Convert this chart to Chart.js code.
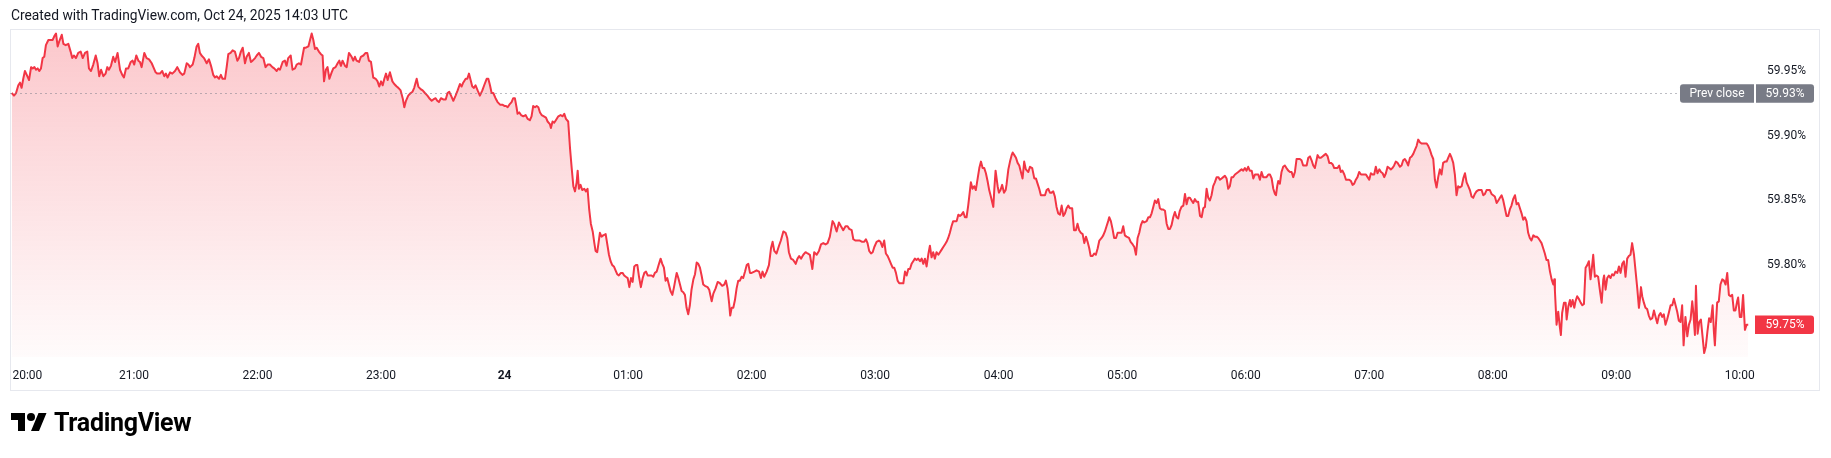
<!DOCTYPE html>
<html><head><meta charset="utf-8">
<script src="https://cdn.jsdelivr.net/npm/chart.js@4.4.1/dist/chart.umd.min.js"></script>
<style>
html,body{margin:0;padding:0;background:#fff;width:1831px;height:458px;overflow:hidden}
#wrap{position:relative;width:1831px;height:458px}
#c{position:absolute;left:0;top:0}
#title{position:absolute;left:11px;top:7px;font:13.8px Roboto,sans-serif;line-height:16px;color:#131722;white-space:nowrap}
#logoIcon{position:absolute;left:11px;top:409px}
#logoText{position:absolute;left:54px;top:410px;font:700 25px Roboto,sans-serif;line-height:25px;color:#000;white-space:nowrap;letter-spacing:-0.3px}
</style></head><body>
<div id="wrap">
<canvas id="c" width="1831" height="458"></canvas>
<div id="title">Created with TradingView.com, Oct 24, 2025 14:03 UTC</div>
<svg id="logoIcon" width="36" height="28" viewBox="0 0 36 28"><path d="M14 22H7V11H0V4h14v18zM28 22h-8l7.5-18h8L28 22z" fill="#000"/><circle cx="20" cy="8" r="4" fill="#000"/></svg>
<div id="logoText">TradingView</div>
</div>
<script>
// ---- data: minutes since 20:00 (ET) and yield in % ----
const seg1Minutes = [0.6,1.7,2.7,3.8,4.6,5.4,6.2,7.0,7.9,9.0,10.0,10.8,11.6,12.4,13.2,14.0,14.8,15.6,16.4,17.2,18.4,19.5,20.5,21.3,22.1,22.9,23.7,24.9,25.7,26.8,28.1,29.2,30.0,30.8,31.8,32.9,34.1,35.1,36.2,37.3,38.1,39.1,40.2,41.4,42.3,43.1,44.0,45.1,46.2,47.0,47.8,48.8,49.9,50.8,52.0,53.2,54.3,55.1,56.1,57.2,58.4,59.3,60.1,61.1,62.1,62.9,63.7,65.0,66.1,67.3,68.6,69.4,70.5,71.3,72.6,73.7,74.7,75.5,76.3,77.5,78.6,79.9,81.0,82.3,83.5,84.4,85.6,86.4,87.2,88.5,89.3,90.4,91.2,92.0,92.8,94.0,95.3,96.4,97.4,98.5,99.3,100.1,101.3,102.2,103.0,104.2,105.0,105.8,106.9,107.9,109.0,110.2,111.0,111.9,112.8,113.9,114.7,115.8,116.8,117.6,118.8,119.6,120.7,121.7,122.8,123.9,124.9,126.0,127.2,128.1,129.3,130.1,130.9,132.2,133.3,134.1,134.9,136.1,137.0,138.2,139.0,140.1,141.1,141.9,142.6,143.5,144.7,145.5,146.3,147.1,147.9,148.7,149.8,150.8,151.6,152.3,153.2,154.0,154.9,156.0,156.8,157.9,158.9,159.7,160.5,161.3,162.5,163.3,164.4];
const seg1Values = [59.933,59.931,59.933,59.939,59.941,59.937,59.944,59.950,59.947,59.943,59.953,59.952,59.953,59.951,59.952,59.950,59.952,59.960,59.961,59.970,59.974,59.974,59.974,59.977,59.979,59.969,59.973,59.978,59.971,59.970,59.971,59.965,59.960,59.962,59.960,59.964,59.965,59.960,59.964,59.965,59.952,59.950,59.955,59.962,59.956,59.946,59.951,59.946,59.948,59.953,59.951,59.954,59.961,59.957,59.964,59.951,59.947,59.945,59.952,59.952,59.957,59.958,59.955,59.962,59.958,59.957,59.953,59.964,59.960,59.959,59.956,59.953,59.949,59.948,59.948,59.950,59.946,59.948,59.945,59.949,59.948,59.950,59.953,59.949,59.947,59.948,59.956,59.955,59.953,59.955,59.960,59.969,59.971,59.964,59.962,59.960,59.956,59.959,59.954,59.947,59.945,59.946,59.944,59.947,59.944,59.944,59.953,59.963,59.964,59.966,59.965,59.958,59.960,59.965,59.968,59.956,59.961,59.964,59.957,59.958,59.960,59.962,59.964,59.961,59.960,59.953,59.955,59.955,59.953,59.952,59.950,59.952,59.951,59.957,59.958,59.954,59.960,59.962,59.951,59.952,59.955,59.956,59.955,59.962,59.968,59.968,59.969,59.974,59.979,59.974,59.967,59.968,59.965,59.963,59.962,59.942,59.951,59.953,59.944,59.949,59.952,59.953,59.956,59.958,59.954,59.958,59.954,59.953,59.964];

const seg2Minutes = [165.7,166.5,167.3,168.1,169.3,170.2,171.4,172.5,173.3,174.1,175.1,176.2,177.4,178.3,179.1,180.0,180.8,181.6,182.4,183.2,184.3,185.5,186.4,187.6,188.4,189.5,190.5,191.3,192.1,193.2,194.4,195.3,196.1,197.3,198.1,199.2,200.2,201.3,202.5,203.4,204.6,205.4,206.5,207.3,208.1,209.1,210.2,211.4,212.3,213.1,214.0,215.1,216.2,217.2,218.3,219.1,219.9,221.1,221.9,222.7,223.5,224.3,225.1,225.9,226.9,228.0,229.2,230.1,231.3,232.1,232.9,233.7,234.5,235.6,236.6,237.8,238.9,239.9,240.7,241.5,242.3,243.4,244.2,245.0,245.8,246.3,247.1,248.0,249.1,250.2,251.2,252.3,253.1,253.9,254.8,255.6,256.4,257.2,258.0,259.1,260.1,260.9,262.0,262.5,263.3,264.1,264.9,266.1,267.2,268.2,269.0,269.8,270.9,271.8,272.6,273.4,274.2,275.0,275.5,276.1,276.9,277.7,278.7,279.5,280.3,281.1,281.9,282.8,283.6,284.2,285.0,285.7,286.3,287.1,287.9,289.1,289.9,290.7,291.5,292.3,293.1,293.9,294.7,295.5,296.5,297.3,298.1,298.9,299.8,300.6,301.4,302.2,303.0,303.7,304.5,305.3,306.2,307.1,307.9,308.7,309.5,310.3,311.4,312.2,313.0,313.9,315.0,315.8,316.6,317.4,318.2,319.0,319.8,320.6,321.5,322.3,323.1,323.6,324.4,325.2,326.0,326.8,327.6,328.4,329.2,330.0,330.8,331.7,332.5,333.3,334.1,334.9,335.7,336.5,337.3,338.6];
const seg2Values = [59.961,59.958,59.961,59.958,59.957,59.961,59.962,59.964,59.964,59.958,59.957,59.945,59.944,59.942,59.938,59.942,59.939,59.944,59.948,59.943,59.949,59.942,59.940,59.938,59.937,59.935,59.929,59.922,59.927,59.931,59.933,59.934,59.937,59.944,59.938,59.936,59.935,59.933,59.931,59.929,59.927,59.928,59.929,59.927,59.926,59.929,59.928,59.928,59.933,59.934,59.931,59.927,59.931,59.935,59.940,59.938,59.941,59.944,59.944,59.948,59.943,59.938,59.937,59.939,59.935,59.931,59.935,59.939,59.944,59.944,59.939,59.933,59.933,59.929,59.926,59.924,59.924,59.923,59.923,59.922,59.924,59.926,59.929,59.929,59.922,59.917,59.918,59.916,59.915,59.916,59.913,59.912,59.915,59.923,59.922,59.923,59.922,59.918,59.916,59.915,59.914,59.911,59.909,59.906,59.911,59.910,59.912,59.915,59.916,59.915,59.917,59.913,59.911,59.890,59.875,59.861,59.857,59.864,59.873,59.859,59.862,59.858,59.859,59.857,59.859,59.843,59.832,59.826,59.817,59.811,59.810,59.818,59.825,59.822,59.823,59.824,59.816,59.808,59.803,59.800,59.799,59.796,59.793,59.792,59.794,59.794,59.792,59.791,59.790,59.783,59.790,59.787,59.799,59.800,59.800,59.791,59.783,59.790,59.794,59.795,59.792,59.792,59.792,59.791,59.794,59.795,59.801,59.805,59.801,59.798,59.788,59.790,59.785,59.780,59.777,59.783,59.790,59.794,59.790,59.785,59.780,59.779,59.777,59.767,59.762,59.769,59.781,59.789,59.793,59.802,59.801,59.798,59.792,59.785,59.784,59.783];

const seg3Minutes = [339.4,340.6,341.4,342.5,343.5,344.6,345.7,346.7,347.5,348.3,349.1,349.6,350.3,351.1,351.9,352.7,353.5,354.3,355.1,355.9,356.8,357.6,358.4,359.2,360.0,361.3,362.4,363.6,364.5,365.3,366.1,367.3,368.4,369.4,370.2,371.0,372.1,373.3,374.2,375.4,376.5,377.3,378.1,379.1,380.2,381.4,382.3,383.1,384.0,385.1,386.2,387.2,388.3,389.5,390.4,391.6,392.7,393.7,394.8,395.9,396.9,398.0,399.3,400.1,401.3,402.4,403.4,404.5,405.6,406.6,407.4,408.6,409.4,410.5,411.5,412.6,413.7,414.7,415.5,416.3,417.1,418.0,418.8,419.6,420.7,421.8,422.6,423.5,424.4,425.2,426.1,426.9,427.7,428.5,429.3,430.1,430.9,431.7,432.5,433.7,434.5,435.3,436.1,436.9,437.7,438.5,439.3,440.1,440.9,441.8,442.6,443.4,444.2,445.0,445.8,446.6,447.4,448.2,449.0,449.8,450.7,451.5,452.3,453.1,453.9,454.7,455.5,456.3,457.1,457.9,458.8,459.6,460.4,461.2,462.0,462.8,463.6,464.4,465.2,466.0,466.5,467.3,468.1,468.9,469.8,470.6,471.4,472.2,473.0,473.8,474.6,475.4,476.2,477.4,477.9,478.5,479.5,480.1,480.9,481.7,482.6,483.4,483.8,484.7,485.5,486.3,486.8,487.6,488.4,489.2,490.0,490.8,491.6,492.4,493.2,494.4,495.2,496.3,497.3,498.1,498.9,499.7,500.5,501.7,502.5,503.3,504.1,504.9];
const seg3Values = [59.781,59.772,59.778,59.782,59.787,59.786,59.784,59.785,59.788,59.782,59.770,59.761,59.767,59.767,59.773,59.782,59.788,59.788,59.791,59.790,59.795,59.800,59.801,59.794,59.794,59.795,59.796,59.795,59.790,59.795,59.791,59.795,59.800,59.813,59.818,59.811,59.809,59.815,59.819,59.826,59.825,59.821,59.810,59.805,59.804,59.801,59.805,59.807,59.805,59.808,59.810,59.809,59.808,59.797,59.810,59.808,59.811,59.816,59.817,59.816,59.817,59.822,59.834,59.832,59.826,59.833,59.830,59.827,59.830,59.830,59.828,59.827,59.820,59.819,59.819,59.819,59.818,59.818,59.820,59.817,59.811,59.809,59.810,59.814,59.818,59.819,59.818,59.814,59.819,59.809,59.807,59.804,59.801,59.798,59.798,59.794,59.788,59.786,59.786,59.786,59.795,59.792,59.797,59.797,59.801,59.803,59.805,59.804,59.805,59.803,59.805,59.801,59.805,59.799,59.808,59.815,59.806,59.810,59.805,59.810,59.808,59.810,59.812,59.814,59.816,59.818,59.821,59.825,59.830,59.834,59.834,59.834,59.839,59.838,59.839,59.841,59.837,59.837,59.846,59.857,59.864,59.859,59.861,59.858,59.867,59.875,59.880,59.875,59.875,59.871,59.865,59.858,59.853,59.845,59.859,59.873,59.861,59.856,59.858,59.862,59.856,59.858,59.862,59.874,59.880,59.885,59.887,59.885,59.883,59.879,59.877,59.872,59.867,59.880,59.874,59.872,59.876,59.875,59.867,59.867,59.863,59.859,59.854,59.854,59.854,59.858,59.859,59.856];

const seg4Minutes = [505.7,506.5,507.3,508.1,508.9,509.8,510.6,511.4,512.2,513.0,513.8,514.6,515.7,516.6,517.5,518.3,519.1,519.9,520.8,521.6,522.4,523.2,524.0,524.7,525.6,526.4,527.2,528.1,528.9,530.0,530.8,531.6,532.4,533.2,533.7,534.5,535.3,536.1,537.0,537.8,538.9,539.7,540.5,541.3,542.1,543.3,544.1,545.1,545.9,546.7,547.5,548.3,549.1,549.9,550.7,551.9,552.7,553.5,554.3,555.1,555.9,556.7,557.5,558.3,559.1,559.9,560.8,561.6,562.4,563.2,564.0,564.8,565.6,566.4,567.2,568.0,568.8,569.7,570.5,571.3,572.1,572.9,573.7,574.5,575.3,576.1,576.9,577.8,578.6,579.4,580.2,581.0,581.8,582.6,583.4,584.2,585.0,585.9,586.7,587.5,588.3,589.1,589.9,590.7,591.5,592.3,593.1,593.9,594.8,595.6,596.4,597.2,598.0,598.8,599.6,600.4,601.2,602.0,602.9,603.7,604.5,605.3,606.1,606.9,607.7,608.5,609.3,610.1,611.0,611.8,612.6,613.4,614.2,614.7,615.3,615.8,616.6,617.4,618.2,619.0,619.8,620.7,621.5,622.3,623.1,623.9,624.7,625.5,626.3,627.1,627.9,628.8,629.6,630.4,631.2,632.0,632.8,633.6,634.4,634.9,635.7,636.5,637.3,638.1,638.9,639.8,640.6,641.4,642.2,643.0,643.8,644.6,645.4,646.2,647.0,647.9,648.7,649.5,650.3,651.1,651.9,652.7,653.5,654.3,655.1,656.0,656.8,657.6,658.4,659.2,660.0,660.8,661.6,662.4,663.2,664.0,664.9,665.7,666.5,667.3,668.1,668.9,669.7,670.5,671.3,672.1,672.9,673.8];
const seg4Values = [59.856,59.857,59.853,59.845,59.840,59.839,59.846,59.838,59.840,59.844,59.846,59.844,59.844,59.827,59.827,59.832,59.827,59.825,59.824,59.817,59.822,59.818,59.813,59.807,59.807,59.809,59.808,59.813,59.819,59.821,59.823,59.826,59.830,59.834,59.837,59.834,59.828,59.821,59.821,59.825,59.825,59.825,59.830,59.823,59.822,59.821,59.818,59.816,59.814,59.808,59.821,59.825,59.831,59.834,59.833,59.834,59.837,59.837,59.840,59.845,59.850,59.848,59.851,59.844,59.843,59.843,59.842,59.832,59.828,59.828,59.831,59.837,59.841,59.837,59.836,59.842,59.845,59.846,59.855,59.847,59.852,59.852,59.850,59.848,59.851,59.849,59.849,59.838,59.837,59.844,59.845,59.859,59.852,59.850,59.854,59.861,59.864,59.868,59.868,59.866,59.867,59.868,59.869,59.867,59.859,59.861,59.868,59.868,59.870,59.871,59.872,59.873,59.874,59.873,59.875,59.873,59.876,59.873,59.873,59.867,59.870,59.870,59.870,59.866,59.872,59.868,59.868,59.868,59.870,59.870,59.867,59.859,59.855,59.854,59.861,59.865,59.863,59.872,59.876,59.877,59.875,59.873,59.872,59.872,59.868,59.872,59.882,59.882,59.882,59.881,59.877,59.877,59.877,59.883,59.884,59.881,59.877,59.875,59.881,59.885,59.883,59.883,59.884,59.885,59.886,59.884,59.879,59.879,59.878,59.875,59.875,59.875,59.877,59.872,59.873,59.870,59.866,59.866,59.866,59.865,59.862,59.863,59.866,59.868,59.872,59.870,59.870,59.870,59.870,59.868,59.866,59.871,59.870,59.870,59.876,59.871,59.874,59.872,59.871,59.868,59.871,59.876,59.875,59.874,59.875,59.877,59.880,59.879];

const seg5Minutes = [674.9,675.7,676.5,677.3,678.1,678.9,679.8,680.6,681.4,682.2,683.0,683.8,684.6,685.4,686.2,687.0,687.9,688.7,689.5,690.3,691.1,691.9,692.7,693.5,694.3,695.1,695.9,696.8,697.6,698.4,699.2,700.0,700.8,701.6,702.4,703.2,704.0,704.9,705.7,706.5,707.3,708.1,708.9,709.7,710.5,711.3,712.1,713.0,713.8,714.6,715.4,716.2,717.0,717.8,718.6,719.4,720.2,721.0,721.9,722.7,723.5,724.3,725.1,725.9,726.7,727.5,728.3,729.1,729.9,730.8,731.6,732.4,733.2,734.0,734.8,735.6,736.4,737.2,738.0,738.8,739.7,740.5,741.3,742.1,742.9,743.7,744.5,745.3,746.1,746.9,747.8,748.6,749.4,749.9,750.2,751.0,751.8,752.6,753.1,753.7,754.6,755.4,755.9,756.7,757.5,758.0,758.8,759.6,760.2,761.0,761.8,762.7,763.5,764.3,765.1,765.9,766.7,767.5,768.3,768.8,769.6,770.4,771.2,772.0,772.9,773.7,774.1,774.8,775.6,776.4,777.2,778.0,778.8,779.6,780.5,781.3,782.1,782.9,783.7,784.5,785.3,786.1,786.9,787.7,788.6,789.4,790.2,791.0,791.5,792.0,792.6,793.4,794.2,795.0,795.8,796.6,797.5,798.3,799.1,799.9,800.7,801.5,802.3,803.1,803.9,804.7,805.5,806.4,807.2,808.0,808.8,809.6,810.4,811.2,812.0,812.7,813.6,814.5,815.3,816.1,816.9,817.4,818.2,818.7,819.5,820.3,821.1,821.9,822.7,823.5,824.3,825.1,825.9,826.8,827.4,827.9,828.4,829.0,829.8,830.6,831.5,832.3,833.1,833.9,834.7,835.5,836.3,837.1,837.9,838.7,839.2,840.0,840.8,841.6,842.5,843.3,844.1];
const seg5Values = [59.876,59.877,59.881,59.882,59.880,59.877,59.883,59.884,59.886,59.889,59.892,59.897,59.895,59.894,59.894,59.894,59.894,59.892,59.889,59.885,59.882,59.866,59.860,59.868,59.874,59.870,59.879,59.880,59.880,59.883,59.886,59.883,59.879,59.870,59.854,59.861,59.860,59.861,59.867,59.871,59.864,59.861,59.858,59.853,59.852,59.855,59.857,59.858,59.858,59.858,59.854,59.855,59.858,59.858,59.858,59.855,59.854,59.853,59.848,59.850,59.852,59.854,59.850,59.844,59.838,59.838,59.843,59.846,59.851,59.854,59.847,59.848,59.844,59.840,59.835,59.837,59.834,59.825,59.821,59.819,59.823,59.822,59.822,59.821,59.819,59.817,59.813,59.809,59.804,59.804,59.795,59.789,59.785,59.789,59.780,59.754,59.764,59.752,59.746,59.763,59.771,59.771,59.758,59.768,59.773,59.768,59.773,59.767,59.772,59.776,59.774,59.771,59.769,59.770,59.798,59.800,59.803,59.789,59.800,59.808,59.791,59.792,59.791,59.781,59.771,59.789,59.792,59.781,59.790,59.792,59.790,59.793,59.792,59.795,59.794,59.799,59.794,59.801,59.803,59.791,59.805,59.807,59.808,59.817,59.808,59.795,59.782,59.767,59.774,59.783,59.776,59.771,59.767,59.766,59.761,59.758,59.759,59.765,59.760,59.755,59.761,59.763,59.760,59.762,59.754,59.758,59.763,59.769,59.769,59.774,59.769,59.764,59.757,59.756,59.769,59.738,59.760,59.745,59.754,59.758,59.772,59.764,59.746,59.784,59.747,59.756,59.758,59.745,59.732,59.737,59.749,59.759,59.756,59.769,59.749,59.738,59.754,59.771,59.772,59.785,59.789,59.788,59.785,59.794,59.777,59.776,59.777,59.765,59.765,59.772,59.775,59.760,59.760,59.777,59.750,59.754,59.754];

const prevClose = 59.933;
const xTickMinutes = [0,60,120,180,240,300,360,420,480,540,600,660,720,780,840];
const xTickLabels = ['\u2007\u2007\u2007\u2007\u200720:00','21:00','22:00','23:00','24','01:00','02:00','03:00','04:00','05:00','06:00','07:00','08:00','09:00','10:00'];
const yTickValues = [59.75,59.80,59.85,59.90,59.95];
const xRange = [0, 846.9];
const yRange = [59.729, 59.9817];

// ---- build ----
const minutes = [].concat(seg1Minutes, seg2Minutes, seg3Minutes, seg4Minutes, seg5Minutes);
const values = [].concat(seg1Values, seg2Values, seg3Values, seg4Values, seg5Values);
const points = minutes.map((m, i) => ({x: m, y: values[i]}));
const lastValue = values[values.length - 1];

const RED = '#F23645';
const GREY = '#787B86';
const FONT = 'Roboto, sans-serif';

function roundRect(ctx, x, y, w, h, r) {
  ctx.beginPath();
  ctx.moveTo(x + r[0], y);
  ctx.lineTo(x + w - r[1], y);
  ctx.quadraticCurveTo(x + w, y, x + w, y + r[1]);
  ctx.lineTo(x + w, y + h - r[2]);
  ctx.quadraticCurveTo(x + w, y + h, x + w - r[2], y + h);
  ctx.lineTo(x + r[3], y + h);
  ctx.quadraticCurveTo(x, y + h, x, y + h - r[3]);
  ctx.lineTo(x, y + r[0]);
  ctx.quadraticCurveTo(x, y, x + r[0], y);
  ctx.closePath();
}

const framePlugin = {
  id: 'frame',
  beforeDraw(chart) {
    const c = chart.ctx, a = chart.chartArea;
    c.save();
    c.strokeStyle = '#e6e8ee';
    c.lineWidth = 1;
    c.strokeRect(Math.floor(a.left) + 0.5, Math.floor(a.top) - 0.5, 1819 - Math.floor(a.left), 361);
    c.restore();
  }
};

const labelsPlugin = {
  id: 'priceLabels',
  afterDatasetsDraw(chart) {
    const c = chart.ctx, a = chart.chartArea, y = chart.scales.y;
    c.save();
    const py = Math.round(y.getPixelForValue(prevClose)) + 0.5;
    c.strokeStyle = GREY;
    c.lineWidth = 1;
    c.setLineDash([1, 4]);
    c.beginPath();
    c.moveTo(a.left, py);
    c.lineTo(a.right - 74, py);
    c.stroke();
    c.setLineDash([]);
    const h = 18.5;
    c.fillStyle = GREY;
    roundRect(c, a.right - 74, py - h / 2, 74, h, [3, 0, 0, 3]);
    c.fill();
    roundRect(c, a.right + 2, py - h / 2, 58, h, [0, 3, 3, 0]);
    c.fill();
    c.fillStyle = '#fff';
    c.font = '12px ' + FONT;
    c.textBaseline = 'middle';
    c.textAlign = 'center';
    c.fillText('Prev close', a.right - 37, py + 0.5);
    c.fillText(prevClose.toFixed(2) + '%', a.right + 31, py + 0.5);
    const ly = y.getPixelForValue(lastValue);
    c.fillStyle = RED;
    roundRect(c, a.right + 1, ly - h / 2, 59, h, [0, 3, 3, 0]);
    c.fill();
    c.fillStyle = '#fff';
    c.fillText(lastValue.toFixed(2) + '%', a.right + 31, ly + 0.5);
    c.restore();
  }
};

new Chart(document.getElementById('c'), {
  type: 'line',
  data: {
    datasets: [{
      data: points,
      borderColor: RED,
      borderWidth: 2,
      borderJoinStyle: 'round',
      pointRadius: 0,
      tension: 0,
      fill: 'start',
      backgroundColor: (ctx) => {
        const a = ctx.chart.chartArea;
        if (!a) return 'rgba(242,54,69,0.15)';
        const g = ctx.chart.ctx.createLinearGradient(0, a.top, 0, a.bottom);
        g.addColorStop(0, 'rgba(242,54,69,0.28)');
        g.addColorStop(1, 'rgba(242,54,69,0.02)');
        return g;
      }
    }]
  },
  options: {
    responsive: false,
    animation: false,
    devicePixelRatio: 1,
    layout: {padding: {left: 10.5, top: 30, right: 12, bottom: 68}},
    plugins: {legend: {display: false}, tooltip: {enabled: false}},
    scales: {
      x: {
        type: 'linear', min: xRange[0], max: xRange[1],
        grid: {display: false, drawTicks: false},
        border: {display: false},
        afterBuildTicks: (s) => { s.ticks = xTickMinutes.map(v => ({value: v})); },
        afterFit: (s) => { s.height = 33; s.paddingLeft = 0; s.paddingRight = 0; },
        ticks: {
          padding: 12, maxRotation: 0, autoSkip: false, color: '#131722',
          font: (c) => ({family: FONT, size: 12, weight: (c.tick && c.tick.value === 240) ? 'bold' : 'normal'}),
          callback: (v) => xTickLabels[xTickMinutes.indexOf(v)]
        }
      },
      y: {
        position: 'right', min: yRange[0], max: yRange[1],
        grid: {display: false, drawTicks: false},
        border: {display: false},
        afterBuildTicks: (s) => { s.ticks = yTickValues.map(v => ({value: v})); },
        afterFit: (s) => { s.width = 65; s.paddingTop = 0; s.paddingBottom = 0; },
        ticks: {padding: 13, color: '#131722', font: {family: FONT, size: 12}, callback: (v) => v.toFixed(2) + '%'}
      }
    }
  },
  plugins: [framePlugin, labelsPlugin]
});
</script>
</body></html>
